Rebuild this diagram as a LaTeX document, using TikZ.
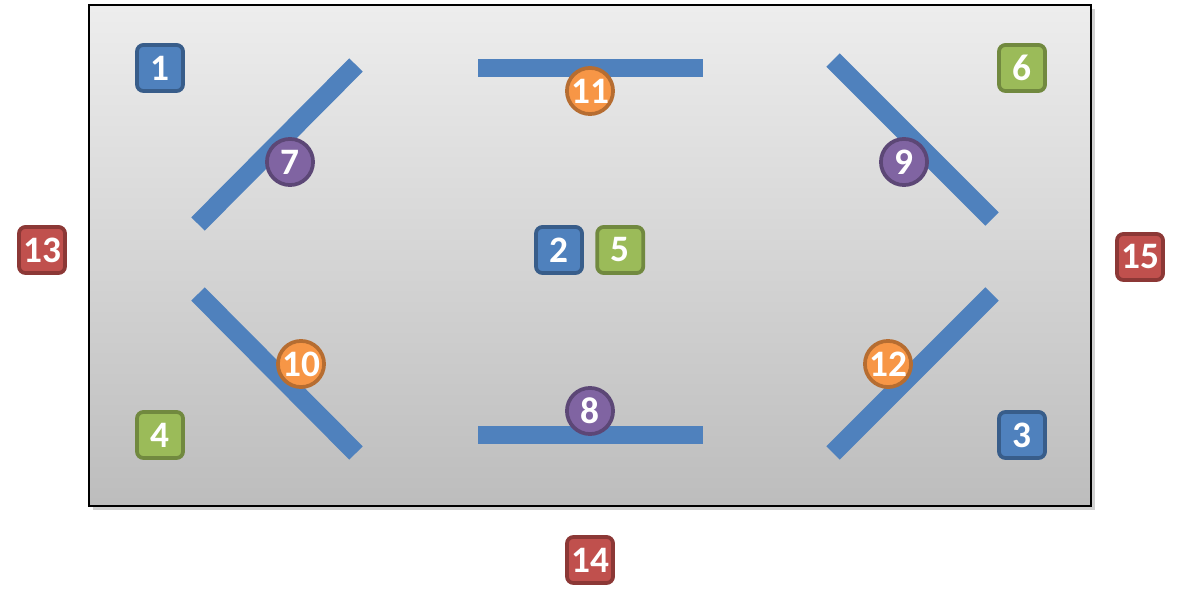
\documentclass[tikz,border=0pt]{standalone}
\usepackage{fontspec}
\setmainfont{Carlito}[BoldFont={Carlito Bold}]
\usetikzlibrary{positioning}

\definecolor{accblue}{HTML}{4F81BD}
\definecolor{accblueD}{HTML}{385D8A}
\definecolor{accgreen}{HTML}{9BBB59}
\definecolor{accgreenD}{HTML}{71893F}
\definecolor{accred}{HTML}{C0504D}
\definecolor{accredD}{HTML}{8C3836}
\definecolor{accpurple}{HTML}{8064A2}
\definecolor{accpurpleD}{HTML}{5C4776}
\definecolor{accorange}{HTML}{F79646}
\definecolor{accorangeD}{HTML}{B66D31}

\begin{document}
\begin{tikzpicture}[
    x=0.75pt, y=-0.75pt,
    node distance=10pt,
    tag/.style={line width=2.8pt, inner sep=0pt, minimum size=34.6pt, text=white,
                font=\fontsize{28}{28}\selectfont\bfseries},
    sq/.style={tag, draw, rectangle, rounded corners=5pt},
    rnd/.style={tag, draw, circle},
    bsq/.style={sq, fill=accblue, draw=accblueD},
    gsq/.style={sq, fill=accgreen, draw=accgreenD},
    rsq/.style={sq, fill=accred, draw=accredD},
    pc/.style={rnd, fill=accpurple, draw=accpurpleD},
    oc/.style={rnd, fill=accorange, draw=accorangeD},
    bar/.style={draw=accblue, line width=14.2pt}
]
\useasboundingbox (0,0) rectangle (1182,605);

% frame with shadow
\fill[black!18] (93,9) rectangle (1095,510);
\shade[top color=black!7, bottom color=black!26] (89,5) rectangle (1091,506);
\draw[line width=1.6pt] (89,5) rectangle (1091,506);

% bars
\draw[bar] (478,68) -- (703,68);
\draw[bar] (478,435) -- (703,435);
\draw[bar] (198,224) -- (356,65);
\draw[bar] (198,294) -- (356,453);
\draw[bar] (833,60) -- (992,219);
\draw[bar] (992,294) -- (833,453);

% squares
\node[bsq] (n1) at (160,68) {1};
\node[bsq] (n2) at (559,250) {2};
\node[gsq, right=8.5pt of n2] (n5) {5};
\node[bsq] (n3) at (1022,435) {3};
\node[gsq] (n4) at (160,435) {4};
\node[gsq] (n6) at (1022,68) {6};
\node[rsq] (n13) at (42,250) {13};
\node[rsq] (n14) at (590,560) {14};
\node[rsq] (n15) at (1140,257) {15};

% circles
\node[pc] (n7) at (290,162) {7};
\node[pc] (n8) at (590,411) {8};
\node[pc] (n9) at (904,162) {9};
\node[oc] (n10) at (301,364) {10};
\node[oc] (n11) at (590,91) {11};
\node[oc] (n12) at (888,364) {12};
\end{tikzpicture}
\end{document}
